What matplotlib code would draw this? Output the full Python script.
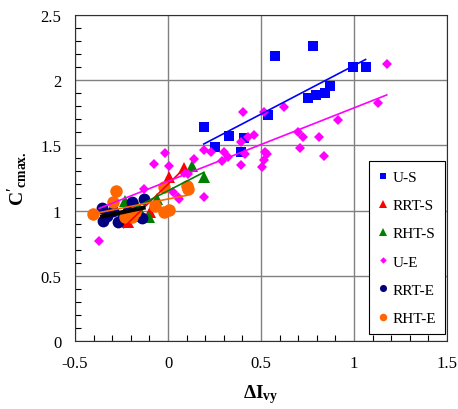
import numpy as np
import matplotlib
matplotlib.use("Agg")
import matplotlib.pyplot as plt

plt.rcParams['font.family'] = ['Liberation Serif', 'DejaVu Serif']
plt.rcParams['mathtext.fontset'] = 'custom'
plt.rcParams['mathtext.rm'] = 'Liberation Serif'
plt.rcParams['mathtext.bf'] = 'Liberation Serif:bold'

# U-S
us_x = [0.192, 0.251, 0.327, 0.408, 0.392, 0.538, 0.576, 0.781, 0.754, 0.797, 0.846, 0.873, 0.997, 1.062]
us_y = [1.641, 1.488, 1.572, 1.557, 1.449, 1.733, 2.186, 2.262, 1.863, 1.886, 1.902, 1.955, 2.101, 2.101]

# RRT-S
rrts_x = [0.003, 0.084, -0.214, -0.095, -0.240, -0.150]
rrts_y = [1.258, 1.327, 0.913, 0.989, 0.920, 0.960]

# RHT-S
rhts_x = [0.127, 0.192, -0.057, -0.230, -0.105, -0.160]
rhts_y = [1.342, 1.258, 1.089, 1.074, 0.951, 1.030]

# U-E
ue_x = [1.176, 1.127, 0.916, 0.841, 0.814, 0.727, 0.700, 0.711, 0.624, 0.516, 0.532, 0.516,
        0.403, 0.462, 0.430, 0.392, 0.414, 0.392, 0.300, 0.322, 0.289, 0.192, 0.230, 0.138,
        -0.019, -0.078, 0.003, 0.522, 0.505, 0.192, 0.084, 0.051, -0.132, 0.057, -0.370,
        0.024, 0.105]
ue_y = [2.124, 1.825, 1.695, 1.419, 1.564, 1.564, 1.603, 1.480, 1.794, 1.756, 1.434, 1.388,
        1.756, 1.580, 1.564, 1.526, 1.434, 1.350, 1.449, 1.411, 1.380, 1.465, 1.449, 1.396,
        1.442, 1.357, 1.342, 1.449, 1.334, 1.104, 1.288, 1.104, 1.166, 1.089, 0.767,
        1.143, 1.280]

# RRT-E
rrte_x = [-0.354, -0.349, -0.268, -0.192, -0.138, -0.132, -0.295, -0.241, -0.330, -0.215]
rrte_y = [1.020, 0.920, 0.913, 1.066, 0.943, 1.089, 0.997, 0.951, 0.960, 1.000]

# RHT-E
rhte_x = [-0.403, -0.278, -0.295, -0.024, 0.105, 0.003, -0.024, -0.230, -0.192, -0.176, -0.068, 0.100]
rhte_y = [0.974, 1.150, 1.066, 1.181, 1.166, 1.005, 0.989, 0.951, 0.951, 0.989, 1.035, 1.190]

series = [
    ("U-S", us_x, us_y, 's', '#0000ff', 6.5, '#0000ff', 1.2),
    ("RRT-S", rrts_x, rrts_y, '^', '#ff0000', 9, '#ff0000', 1.2),
    ("RHT-S", rhts_x, rhts_y, '^', '#008000', 9, '#008000', 1.2),
    ("U-E", ue_x, ue_y, 'D', '#ff00ff', 5.5, '#ff00ff', 1.2),
    ("RRT-E", rrte_x, rrte_y, 'o', '#000080', 8.5, '#000000', 3.0),
    ("RHT-E", rhte_x, rhte_y, 'o', '#ff6600', 9, '#ff6600', 1.2),
]

fig = plt.figure(figsize=(4.58, 4.10), dpi=100)
ax = fig.add_axes([0.164, 0.166, 0.812, 0.795])

for name, x, y, m, c, ms, lc, lw in series:
    ax.plot(x, y, linestyle='none', marker=m, color=c, markersize=ms,
            markeredgewidth=0, label=name, zorder=3)

# trend lines
for name, x, y, m, c, ms, lc, lw in series:
    k, b = np.polyfit(x, y, 1)
    xs = np.array([min(x), max(x)])
    ax.plot(xs, k * xs + b, color=lc, lw=lw, zorder=4)

ax.set_xlim(-0.5, 1.5)
ax.set_ylim(0, 2.5)
ax.set_xticks([-0.5, 0, 0.5, 1, 1.5])
ax.set_xticklabels(['-0.5', '0', '0.5', '1', '1.5'])
ax.set_yticks([0, 0.5, 1, 1.5, 2, 2.5])
ax.set_yticklabels(['0', '0.5', '1', '1.5', '2', '2.5'])
ax.set_xticks(np.arange(-0.5, 1.51, 0.1), minor=True)
ax.set_yticks(np.arange(0, 2.51, 0.1), minor=True)
ax.tick_params(which='both', direction='in', top=False, right=False, labelsize=12)
ax.tick_params(which='major', length=0, pad=10)
ax.tick_params(which='minor', length=4, width=0.8)
ax.grid(True, which='major', color='#808080', lw=1)
for s in ax.spines.values():
    s.set_color('#303030')

ax.set_xlabel(r"$\mathbf{\Delta I_{vy}}$", fontsize=14, labelpad=8)
ax.set_ylabel(r"$\mathbf{C'_{cmax.}}$", fontsize=14, labelpad=8)

leg = ax.legend(loc='lower right', bbox_to_anchor=(0.995, 0.021), fancybox=False,
                edgecolor='black', framealpha=1, fontsize=11, markerscale=0.6,
                labelspacing=0.95, handlelength=0.6, handletextpad=0.3,
                borderpad=0.6, borderaxespad=0)
leg.get_frame().set_linewidth(0.8)

fig.savefig("out.png", dpi=100)
